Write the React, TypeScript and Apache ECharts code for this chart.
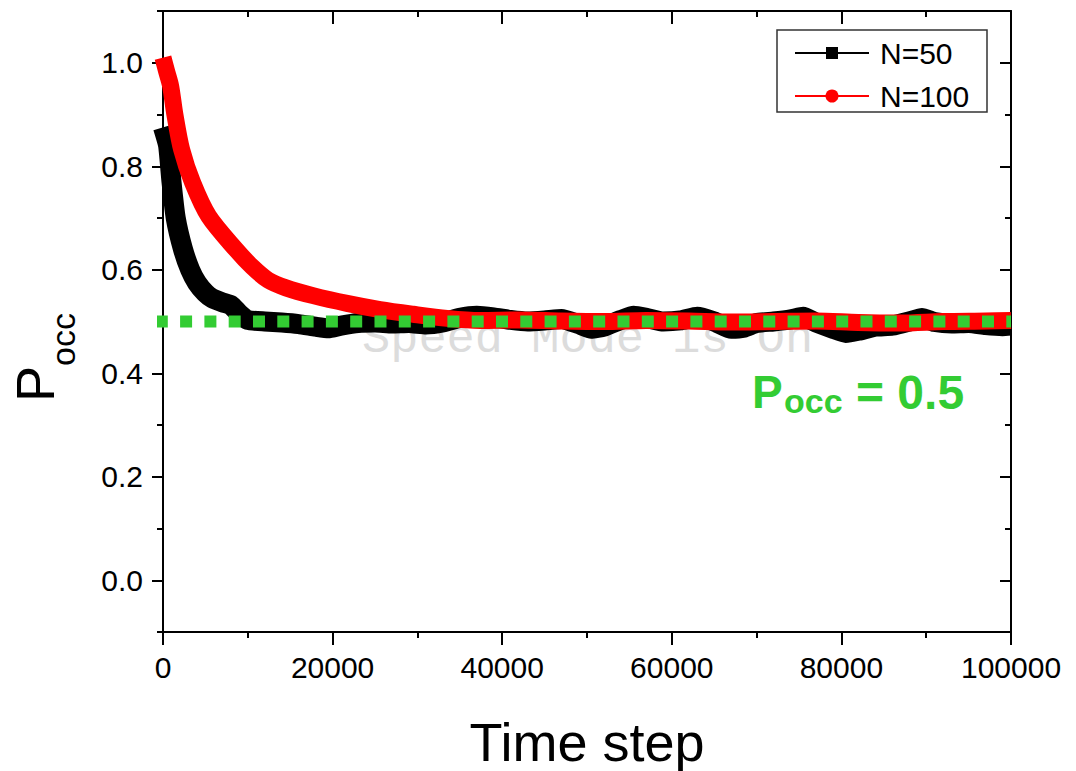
import React, { useEffect, useRef } from "react";
import * as echarts from "echarts";

// ---- data ----
const seriesNames = ["N=50", "N=100"];

const n50Steps = [0, 600, 1000, 1500, 2350, 3200, 4000, 5000, 5800, 7000, 8000, 9000, 10000, 12000, 14000, 16000, 18000, 19500, 21000, 23000, 25000, 27000, 29000, 31000, 33000, 35000, 37000, 39000, 41000, 43000, 45000, 47000, 49000, 50500, 52000, 54000, 55500, 57000, 59000, 61000, 63000, 65000, 67000, 68500, 70000, 72000, 74000, 75500, 77000, 79000, 80500, 82000, 84000, 86000, 88000, 89500, 91000, 93000, 95000, 97000, 99000, 100000];
const n50Values = [0.875, 0.84, 0.77, 0.70, 0.64, 0.60, 0.575, 0.555, 0.545, 0.537, 0.532, 0.515, 0.503, 0.5, 0.498, 0.495, 0.49, 0.487, 0.492, 0.497, 0.498, 0.496, 0.497, 0.494, 0.498, 0.507, 0.511, 0.508, 0.503, 0.5, 0.502, 0.505, 0.495, 0.486, 0.49, 0.503, 0.511, 0.507, 0.5, 0.502, 0.509, 0.5, 0.486, 0.488, 0.497, 0.5, 0.504, 0.509, 0.498, 0.486, 0.478, 0.482, 0.49, 0.492, 0.5, 0.507, 0.499, 0.496, 0.497, 0.493, 0.491, 0.492];

const n100Steps = [0, 400, 900, 1400, 2200, 3500, 5400, 8600, 10500, 12400, 14500, 17700, 21700, 25600, 29500, 33500, 37400, 42000, 47000, 52000, 57000, 62000, 67000, 72000, 77000, 82000, 87000, 92000, 97000, 100000];
const n100Values = [1.01, 0.985, 0.955, 0.9, 0.832, 0.768, 0.703, 0.639, 0.606, 0.58, 0.565, 0.55, 0.535, 0.523, 0.514, 0.506, 0.502, 0.503, 0.501, 0.5, 0.502, 0.501, 0.499, 0.5, 0.501, 0.498, 0.497, 0.5, 0.501, 0.502];

const refSteps = [-850, 100000];
const refLevel = 0.5;

const yMajorTicks = [0, 0.2, 0.4, 0.6, 0.8, 1.0];
const yMinorTicks = [-0.1, 0.1, 0.3, 0.5, 0.7, 0.9, 1.1];

const FONT = "Liberation Sans, Arial, sans-serif";

export default function App() {
  const ref = useRef<HTMLDivElement>(null);

  useEffect(() => {
    document.body.style.margin = "0";
    if (!ref.current) return;
    const chart = echarts.init(ref.current, undefined, { renderer: "svg" });

    const black = "#000";
    const axisLine = { show: true, onZero: false, lineStyle: { color: black, width: 2 } };
    const noLine = { show: false, onZero: false };
    const tickStyle = { color: black, width: 2 };

    const xBase = {
      type: "value",
      min: 0,
      max: 100000,
      interval: 20000,
      axisLine,
      splitLine: { show: false },
      minorSplitLine: { show: false },
    };
    const yBase = {
      type: "value",
      min: -0.1,
      max: 1.1,
      interval: 0.1,
      splitLine: { show: false },
    };

    const option: any = {
      animation: false,
      backgroundColor: "#fff",
      grid: { left: 163, right: 65, top: 11, bottom: 139, containLabel: false, outerBoundsMode: "none" },
      xAxis: [
        {
          ...xBase,
          position: "bottom",
          axisTick: { show: true, inside: false, length: 13, lineStyle: tickStyle },
          minorTick: { show: true, splitNumber: 2, length: 6, lineStyle: tickStyle },
          axisLabel: {
            show: true,
            fontSize: 30,
            color: black,
            fontFamily: FONT,
            margin: 20,
            formatter: (v: number) => String(Math.round(v)),
          },
        },
        {
          ...xBase,
          position: "top",
          axisTick: { show: true, inside: true, length: 13, lineStyle: tickStyle },
          minorTick: { show: true, splitNumber: 2, length: 6, lineStyle: tickStyle },
          axisLabel: { show: false },
        },
      ],
      yAxis: [
        {
          ...yBase,
          position: "left",
          axisLine,
          axisTick: { show: true, inside: false, length: 11, lineStyle: tickStyle, customValues: yMajorTicks },
          axisLabel: {
            show: true,
            customValues: yMajorTicks,
            formatter: (v: number) => (Math.abs(v) < 1e-9 ? 0 : v).toFixed(1),
            fontSize: 30,
            color: black,
            fontFamily: FONT,
            margin: 20,
          },
        },
        {
          ...yBase,
          position: "left",
          axisLine: noLine,
          axisTick: { show: true, inside: false, length: 6, lineStyle: tickStyle, customValues: yMinorTicks },
          axisLabel: { show: false },
        },
        {
          ...yBase,
          position: "right",
          axisLine,
          axisTick: { show: true, inside: true, length: 11, lineStyle: tickStyle, customValues: yMajorTicks },
          axisLabel: { show: false },
        },
        {
          ...yBase,
          position: "right",
          axisLine: noLine,
          axisTick: { show: true, inside: true, length: 6, lineStyle: tickStyle, customValues: yMinorTicks },
          axisLabel: { show: false },
        },
      ],
      series: [
        {
          name: seriesNames[0],
          type: "line",
          xAxisIndex: 0,
          yAxisIndex: 0,
          data: n50Steps.map((t, i) => [t, n50Values[i]]),
          symbol: "none",
          smooth: 0.15,
          lineStyle: { color: "#000", width: 20, join: "round", cap: "butt" },
          z: 2,
        },
        {
          name: seriesNames[1],
          type: "line",
          xAxisIndex: 0,
          yAxisIndex: 0,
          data: n100Steps.map((t, i) => [t, n100Values[i]]),
          symbol: "none",
          smooth: 0.3,
          lineStyle: { color: "#ff0000", width: 17, join: "round", cap: "butt" },
          z: 3,
        },
        {
          name: "ref",
          type: "line",
          xAxisIndex: 0,
          yAxisIndex: 0,
          data: refSteps.map((t) => [t, refLevel]),
          symbol: "none",
          clip: false,
          lineStyle: { color: "#33cc33", width: 12, type: [12, 12.3], cap: "butt" },
          z: 4,
        },
      ],
      graphic: [
        // watermark
        {
          type: "text",
          z: 0,
          x: 362,
          y: 339,
          style: {
            text: "Speed Mode is On",
            font: "47px 'Liberation Mono', monospace",
            fill: "#dcdcdc",
            textVerticalAlign: "middle",
          },
        },
        // reference label
        {
          type: "text",
          z: 50,
          x: 752,
          y: 392,
          style: { text: "P", font: "bold 46px " + FONT, fill: "#33cc33", textVerticalAlign: "middle" },
        },
        {
          type: "text",
          z: 50,
          x: 784,
          y: 401,
          style: { text: "occ", font: "bold 34px " + FONT, fill: "#33cc33", textVerticalAlign: "middle" },
        },
        {
          type: "text",
          z: 50,
          x: 856,
          y: 392,
          style: { text: "= 0.5", font: "bold 48px " + FONT, fill: "#33cc33", textVerticalAlign: "middle" },
        },
        // x axis title
        {
          type: "text",
          z: 50,
          x: 587,
          y: 742,
          style: { text: "Time step", font: "54px " + FONT, fill: "#000", textAlign: "center", textVerticalAlign: "middle" },
        },
        // y axis title (rotated)
        {
          type: "group",
          x: 55,
          y: 402,
          rotation: Math.PI / 2,
          children: [
            { type: "text", x: 0, y: -20, style: { text: "P", font: "54px " + FONT, fill: "#000", textVerticalAlign: "middle" } },
            { type: "text", x: 36, y: 8, style: { text: "occ", font: "34px " + FONT, fill: "#000", textVerticalAlign: "middle" } },
          ],
        },
        // legend
        {
          type: "group",
          z: 100,
          children: [
            { type: "rect", shape: { x: 777, y: 30, width: 210, height: 82 }, style: { fill: "#fff", stroke: "#333", lineWidth: 1.5 } },
            { type: "line", shape: { x1: 795, y1: 53, x2: 869, y2: 53 }, style: { stroke: "#000", lineWidth: 2 } },
            { type: "rect", shape: { x: 826, y: 47, width: 12, height: 12 }, style: { fill: "#000" } },
            { type: "text", x: 880, y: 53, style: { text: seriesNames[0], font: "30px " + FONT, fill: "#000", textVerticalAlign: "middle" } },
            { type: "line", shape: { x1: 795, y1: 96, x2: 869, y2: 96 }, style: { stroke: "#ff0000", lineWidth: 2 } },
            { type: "circle", shape: { cx: 832, cy: 96, r: 6.5 }, style: { fill: "#ff0000" } },
            { type: "text", x: 880, y: 96, style: { text: seriesNames[1], font: "30px " + FONT, fill: "#000", textVerticalAlign: "middle" } },
          ],
        },
      ],
    };

    chart.setOption(option);
    return () => chart.dispose();
  }, []);

  return <div ref={ref} style={{ width: 1076, height: 771 }} />;
}
